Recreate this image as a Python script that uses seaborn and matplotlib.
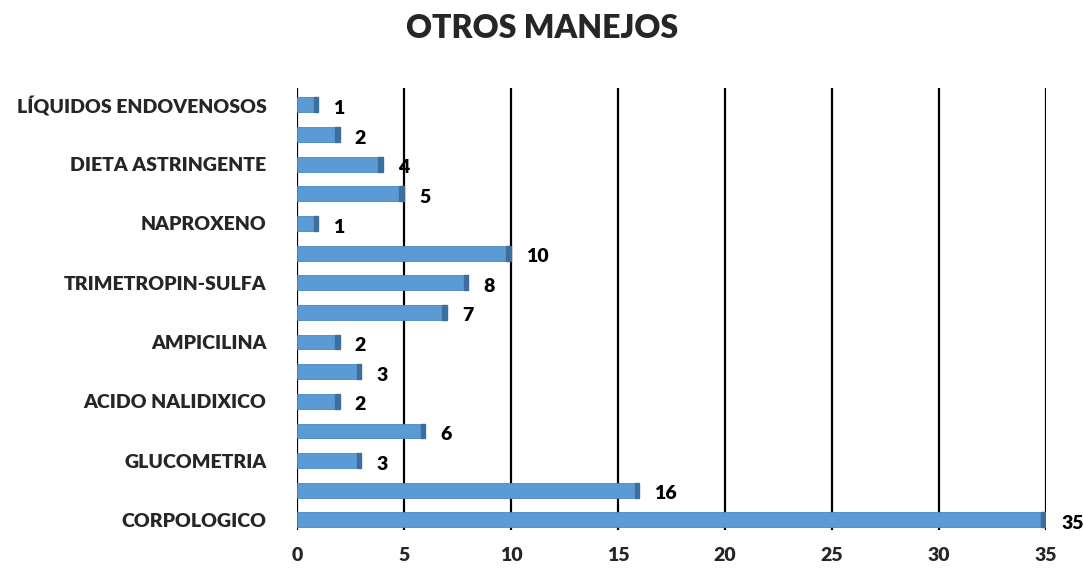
import matplotlib
matplotlib.use('Agg')
import matplotlib.pyplot as plt
import matplotlib.patches as mpatches
import pandas as pd
import seaborn as sns

# categories from top to bottom; unlabeled rows in the original keep placeholder keys
categories = ['LÍQUIDOS ENDOVENOSOS', 'fila 2', 'DIETA ASTRINGENTE', 'fila 4',
              'NAPROXENO', 'fila 6', 'TRIMETROPIN-SULFA', 'fila 8',
              'AMPICILINA', 'fila 10', 'ACIDO NALIDIXICO', 'fila 12',
              'GLUCOMETRIA', 'fila 14', 'CORPOLOGICO']
shown = [True, False] * 7 + [True]
values = [1, 2, 4, 5, 1, 10, 8, 7, 2, 3, 2, 6, 3, 16, 35]
x_ticks = [0, 5, 10, 15, 20, 25, 30, 35]

df = pd.DataFrame({'manejo': categories, 'n': values})

sns.set_style('white')
plt.rcParams['font.family'] = ['Lato', 'DejaVu Sans']
W = 'heavy'

fig = plt.figure(figsize=(10.84, 5.77), dpi=100)
ax = fig.add_axes([0.274, 0.0815, 0.691, 0.766])

sns.barplot(data=df, y='manejo', x='n', order=categories, orient='h',
            color='#5B9BD5', saturation=1, width=0.5, ax=ax,
            edgecolor='#4A86BE', linewidth=0.6, zorder=3)

# darker end cap to hint the 3D look
for p in ax.patches:
    cap = mpatches.Rectangle((p.get_x() + p.get_width() - 0.22, p.get_y()),
                             0.22, p.get_height(), color='#3D6E9E', zorder=4)
    ax.add_patch(cap)

for i, v in enumerate(values):
    ax.text(v + 0.7, i + 0.12, str(v), ha='left', va='center',
            fontsize=14, fontweight=W, color='black', clip_on=False)

ax.set_xlim(0, 35)
ax.set_ylim(14.34, -0.57)
ax.set_xticks(x_ticks)
ax.set_xticklabels([str(t) for t in x_ticks], fontsize=14, fontweight=W)
ax.set_yticks(range(len(categories)))
ax.set_yticklabels([c if s else '' for c, s in zip(categories, shown)],
                   fontsize=14, fontweight=W)
ax.tick_params(axis='y', length=0, pad=22)
ax.tick_params(axis='x', length=6, width=1.5, color='black', direction='out', pad=6)

for t in x_ticks:
    ax.axvline(t, color='black', linewidth=1.6, zorder=1)

for s in ax.spines.values():
    s.set_visible(False)

ax.set_xlabel('')
ax.set_ylabel('')
fig.suptitle('OTROS MANEJOS', fontsize=23, fontweight=W, x=0.5, y=0.975)

fig.savefig('out.png', dpi=100)
